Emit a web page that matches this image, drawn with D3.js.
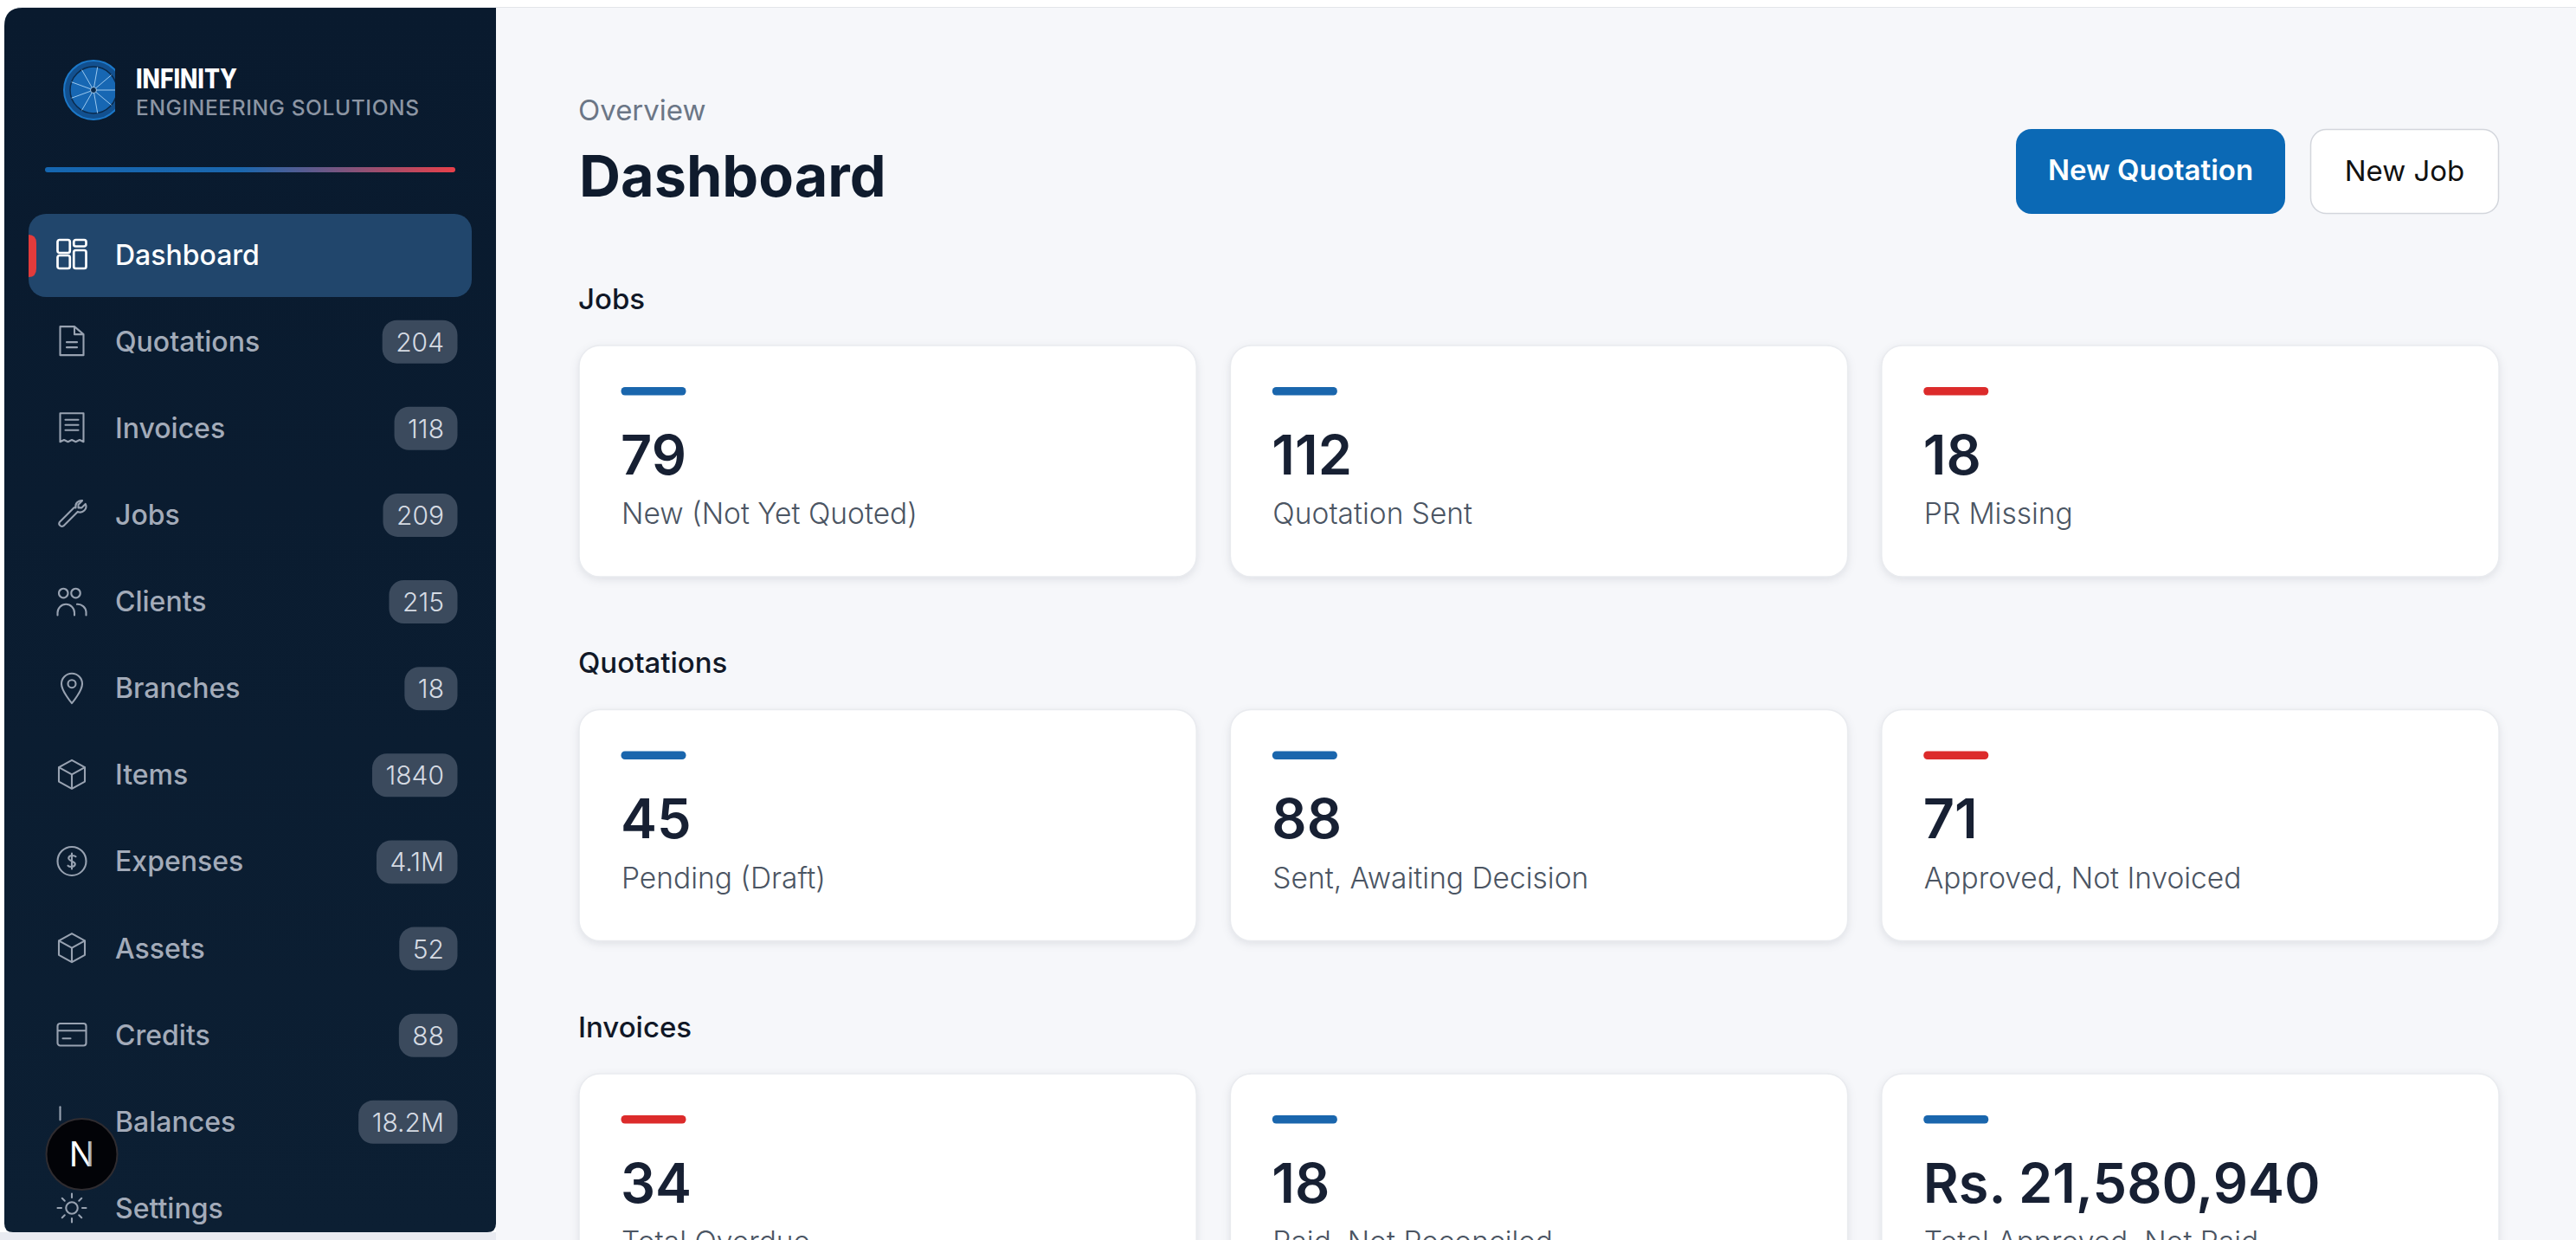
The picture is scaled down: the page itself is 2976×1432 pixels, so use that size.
<!DOCTYPE html>
<html>
<head>
<meta charset="utf-8">
<script src="https://cdn.jsdelivr.net/npm/d3@7"></script>
<style>
  html, body { margin: 0; padding: 0; background: #fff; overflow: hidden; }
  text { font-family: Inter, "Noto Sans", sans-serif; }
</style>
</head>
<body>
<div id="chart-area"></div>
<script>
// sidebar rows
const navLabels = ['Dashboard', 'Quotations', 'Invoices', 'Jobs', 'Clients', 'Branches', 'Items', 'Expenses', 'Assets', 'Credits', 'Balances', 'Settings'];
const navCounts = ['', '204', '118', '209', '215', '18', '1840', '4.1M', '52', '88', '18.2M', ''];

// cards
const sectionTitles = ['Jobs', 'Quotations', 'Invoices'];
const jobValues = ['79', '112', '18'];
const jobLabels = ['New (Not Yet Quoted)', 'Quotation Sent', 'PR Missing'];
const jobAccents = ['blue', 'blue', 'red'];
const quotationValues = ['45', '88', '71'];
const quotationLabels = ['Pending (Draft)', 'Sent, Awaiting Decision', 'Approved, Not Invoiced'];
const quotationAccents = ['blue', 'blue', 'red'];
const invoiceValues = ['34', '18', 'Rs. 21,580,940'];
const invoiceLabels = ['Total Overdue', 'Paid, Not Reconciled', 'Total Approved, Not Paid'];
const invoiceAccents = ['red', 'blue', 'blue'];

const W = 2976, H = 1432;

const svg = d3.select('#chart-area').append('svg')
    .attr('width', W)
    .attr('height', H)
    .style('display', 'block');

const defs = svg.append('defs');

const railGrad = defs.append('linearGradient').attr('id', 'rail');
railGrad.append('stop').attr('offset', '0%').attr('stop-color', '#1566b0');
railGrad.append('stop').attr('offset', '48%').attr('stop-color', '#1b67ae');
railGrad.append('stop').attr('offset', '100%').attr('stop-color', '#e8404a');

const sideGrad = defs.append('linearGradient').attr('id', 'side').attr('x2', 0).attr('y2', 1);
sideGrad.append('stop').attr('offset', '0%').attr('stop-color', '#091a2e');
sideGrad.append('stop').attr('offset', '100%').attr('stop-color', '#0c1f33');

const nGrad = defs.append('linearGradient').attr('id', 'nfade');
nGrad.append('stop').attr('offset', '0%').attr('stop-color', '#fff');
nGrad.append('stop').attr('offset', '70%').attr('stop-color', '#fff');
nGrad.append('stop').attr('offset', '100%').attr('stop-color', '#555');

defs.append('clipPath').attr('id', 'logoClip')
    .append('rect').attr('x', 60).attr('y', 60).attr('width', 73).attr('height', 90);

// page background
svg.append('rect').attr('x', 573).attr('y', 9).attr('width', W - 573).attr('height', H).attr('fill', '#f6f7fa');
svg.append('line').attr('x1', 20).attr('x2', W).attr('y1', 8.5).attr('y2', 8.5).attr('stroke', '#e3e5e9').attr('stroke-width', 1);
svg.append('rect').attr('x', 0).attr('y', 1423).attr('width', 573).attr('height', 9).attr('fill', '#e9ebf1');

// sidebar
svg.append('path')
    .attr('d', 'M5,30 Q5,9 26,9 H573 V1413 Q573,1423 563,1423 H15 Q5,1423 5,1413 Z')
    .attr('fill', 'url(#side)');

// logo
const logo = svg.append('g').attr('clip-path', 'url(#logoClip)');
logo.append('circle').attr('cx', 108).attr('cy', 104).attr('r', 34).attr('fill', '#12508f').attr('stroke', '#1c78c8').attr('stroke-width', 2);
logo.append('circle').attr('cx', 108).attr('cy', 104).attr('r', 27).attr('fill', '#1767b3').attr('stroke', '#0a2a4c').attr('stroke-width', 1.5);
logo.selectAll('line').data(d3.range(9)).enter()
    .append('line')
    .attr('x1', 108).attr('y1', 104)
    .attr('x2', d => 108 + 27 * Math.cos(d * 2 * Math.PI / 9))
    .attr('y2', d => 104 + 27 * Math.sin(d * 2 * Math.PI / 9))
    .attr('stroke', '#9cc8ee').attr('stroke-width', 1);
logo.append('circle').attr('cx', 108).attr('cy', 104).attr('r', 3.5).attr('fill', '#0a2a4c').attr('stroke', '#9cc8ee');

svg.append('text').attr('x', 157).attr('y', 102)
    .attr('font-size', 31).attr('font-weight', 800).attr('fill', '#fff')
    .attr('textLength', 117).attr('lengthAdjust', 'spacingAndGlyphs')
    .text('INFINITY');
svg.append('text').attr('x', 157).attr('y', 133)
    .attr('font-size', 24.5).attr('font-weight', 500).attr('fill', '#8c95a3')
    .attr('textLength', 327)
    .text('ENGINEERING SOLUTIONS');

svg.append('rect').attr('x', 52).attr('y', 193).attr('width', 474).attr('height', 6).attr('rx', 3).attr('fill', 'url(#rail)');

// nav rows
const navY = d3.scalePoint().domain(navLabels).range([294.5, 1396]);

svg.append('rect').attr('x', 33).attr('y', 247).attr('width', 512).attr('height', 96).attr('rx', 20).attr('fill', '#21466c');
svg.append('path').attr('d', 'M33,271 Q42,271 42,281 V310 Q42,320 33,320 Z').attr('fill', '#e23b3b');

const iconPaths = {
    Dashboard: 'M1 2.500a1.500 1.500 0 0 1 1.500-1.500h6.500a1.500 1.500 0 0 1 1.500 1.500v7a1.500 1.500 0 0 1-1.500 1.500h-6.500a1.500 1.500 0 0 1-1.500-1.500z M13.500 2.500a1.500 1.500 0 0 1 1.500-1.500h6.500a1.500 1.500 0 0 1 1.500 1.500v2a1.500 1.500 0 0 1-1.500 1.500h-6.500a1.500 1.500 0 0 1-1.500-1.500z M1 14.500a1.500 1.500 0 0 1 1.500-1.500h6.500a1.500 1.500 0 0 1 1.500 1.500v7a1.500 1.500 0 0 1-1.500 1.500h-6.500a1.500 1.500 0 0 1-1.500-1.500z M13.500 10.500a1.500 1.500 0 0 1 1.500-1.500h6.500a1.500 1.500 0 0 1 1.500 1.500v11a1.500 1.500 0 0 1-1.500 1.500h-6.500a1.500 1.500 0 0 1-1.500-1.500z',
    Quotations: 'M14 1H3v22h18V7z M14 1v6h7 M8 13h8 M8 17h8',
    Invoices: 'M3 1h18v22l-3-1.500-3 1.500-3-1.500-3 1.500-3-1.500-3 1.500z M7 6h10 M7 10h10 M7 14h10',
    Jobs: 'M15 7a4.500 4.500 0 0 1 5-5.500l-3 3v2.500h2.500l3-3a4.500 4.500 0 0 1-6 6l-11 11a2.200 2.200 0 0 1-3-3l11-11a4.500 4.500 0 0 1 1.500 0z',
    Clients: 'M9 6a3.500 3.500 0 1 0 0 .01z M18.500 6a3.500 3.500 0 1 0 0 .01z M1 23v-2a6.500 6.500 0 0 1 13 0v2 M16 14.500a6.500 6.500 0 0 1 7 6v2.500',
    Branches: 'M12 24s-8-9.500-8-15a8 8 0 0 1 16 0c0 5.500-8 15-8 15z M15 9a3 3 0 1 1-6 0a3 3 0 1 1 6 0z',
    Items: 'M12 1l10 5.500v11L12 23 2 17.500v-11z M2 6.500L12 12l10-5.500 M12 12v11',
    Expenses: 'M23 12a11 11 0 1 1-22 0a11 11 0 1 1 22 0z M15 8.500c-1-1-5-1.500-5.500 1s5.500 2.500 5 5-4.500 2-5.500 1 M12 6v12',
    Assets: 'M12 1l10 5.500v11L12 23 2 17.500v-11z M2 6.500L12 12l10-5.500 M12 12v11',
    Credits: 'M3 3.500h18a2 2 0 0 1 2 2v13a2 2 0 0 1-2 2H3a2 2 0 0 1-2-2v-13a2 2 0 0 1 2-2z M1 9h22 M5 15h6',
    Balances: 'M3 1v10',
    Settings: 'M16.500 12a4.500 4.500 0 1 1-9 0a4.500 4.500 0 1 1 9 0z M12 1v3 M12 20v3 M1 12h3 M20 12h3 M4.500 4.500l2 2 M17.500 17.500l2 2 M4.500 19.500l2-2 M17.500 6.500l2-2'
};

const rows = svg.selectAll('.nav').data(navLabels).enter()
    .append('g')
    .attr('class', 'nav')
    .attr('transform', d => `translate(0,${navY(d)})`);

rows.append('path')
    .attr('transform', 'translate(65,-19) scale(1.5)')
    .attr('d', d => iconPaths[d])
    .attr('fill', 'none')
    .attr('stroke', d => d === 'Dashboard' ? '#fff' : '#98a2b1')
    .attr('stroke-width', d => d === 'Dashboard' ? 1.8 : 1.4)
    .attr('stroke-linejoin', 'round')
    .attr('stroke-linecap', 'round');

rows.append('text')
    .attr('x', 133).attr('y', 11)
    .attr('font-size', 32).attr('font-weight', 500)
    .attr('fill', d => d === 'Dashboard' ? '#fff' : '#a3abb9')
    .text(d => d);

// badges sized from their own text
rows.each(function(d, i) {
    if (!navCounts[i]) return;
    const g = d3.select(this);
    const bg = g.append('rect');
    const t = g.append('text')
        .attr('x', 513).attr('y', 11)
        .attr('text-anchor', 'end')
        .attr('font-size', 30).attr('font-weight', 300)
        .attr('fill', '#d6dbe3')
        .text(navCounts[i]);
    const w = t.node().getComputedTextLength() + 31;
    bg.attr('x', 528.5 - w).attr('y', -25).attr('width', w).attr('height', 50).attr('rx', 17).attr('fill', '#3b4a5d');
});

// next badge on top of the nav
svg.append('circle').attr('cx', 94.5).attr('cy', 1333).attr('r', 41).attr('fill', '#020307').attr('stroke', '#2f2c30').attr('stroke-width', 2);
svg.append('text').attr('x', 94.5).attr('y', 1347).attr('text-anchor', 'middle')
    .attr('font-size', 39).attr('font-weight', 400).attr('fill', 'url(#nfade)').text('N');

// header
svg.append('text').attr('x', 668).attr('y', 139).attr('font-size', 33).attr('font-weight', 400).attr('fill', '#6b7686').text('Overview');
svg.append('text').attr('x', 669).attr('y', 227).attr('font-size', 66.5).attr('font-weight', 700).attr('fill', '#0f1b2d').text('Dashboard');

svg.append('rect').attr('x', 2329).attr('y', 149).attr('width', 311).attr('height', 98).attr('rx', 18).attr('fill', '#0b69b5');
svg.append('text').attr('x', 2484.5).attr('y', 208).attr('text-anchor', 'middle').attr('font-size', 33).attr('font-weight', 600).attr('fill', '#fff').text('New Quotation');
svg.append('rect').attr('x', 2669.5).attr('y', 149.5).attr('width', 217).attr('height', 97).attr('rx', 18).attr('fill', '#fff').attr('stroke', '#d3d6dc').attr('stroke-width', 1.5);
svg.append('text').attr('x', 2778).attr('y', 209).attr('text-anchor', 'middle').attr('font-size', 33).attr('font-weight', 400).attr('fill', '#111').text('New Job');

// sections and cards
const sectionValues = [jobValues, quotationValues, invoiceValues];
const sectionLabels = [jobLabels, quotationLabels, invoiceLabels];
const sectionAccents = [jobAccents, quotationAccents, invoiceAccents];
const accentColor = d3.scaleOrdinal().domain(['blue', 'red']).range(['#1a66ad', '#dc2b2b']);

const sectionY = d3.scalePoint().domain(sectionTitles).range([357, 1198]);
const cardX = d3.scaleBand().domain([0, 1, 2]).range([669, 2887]).paddingInner(0.052);

sectionTitles.forEach((title, s) => {
    const y0 = sectionY(title);
    svg.append('text').attr('x', 668).attr('y', y0 - 0.5).attr('font-size', 33).attr('font-weight', 500).attr('fill', '#111827').text(title);

    const cards = svg.selectAll('.card' + s).data(sectionValues[s]).enter()
        .append('g')
        .attr('class', 'card' + s)
        .attr('transform', (d, i) => `translate(${cardX(i)},${y0 + 42})`);

    cards.append('rect')
        .attr('width', cardX.bandwidth()).attr('height', 267).attr('rx', 24)
        .attr('fill', '#fff').attr('stroke', '#e9ebef').attr('stroke-width', 1.5)
        .style('filter', 'drop-shadow(0 3px 5px rgba(30,40,60,0.10))');

    cards.append('rect')
        .attr('x', 48.500).attr('y', 48).attr('width', 75).attr('height', 9.500).attr('rx', 4.500)
        .attr('fill', (d, i) => accentColor(sectionAccents[s][i]));

    cards.append('text')
        .attr('x', 48).attr('y', 148.500)
        .attr('font-size', 63).attr('font-weight', 600).attr('fill', '#172033')
        .text(d => d);

    cards.append('text')
        .attr('x', 49).attr('y', 206)
        .attr('font-size', 33.500).attr('font-weight', 300).attr('fill', '#4b5563')
        .text((d, i) => sectionLabels[s][i]);
});
</script>
</body>
</html>
